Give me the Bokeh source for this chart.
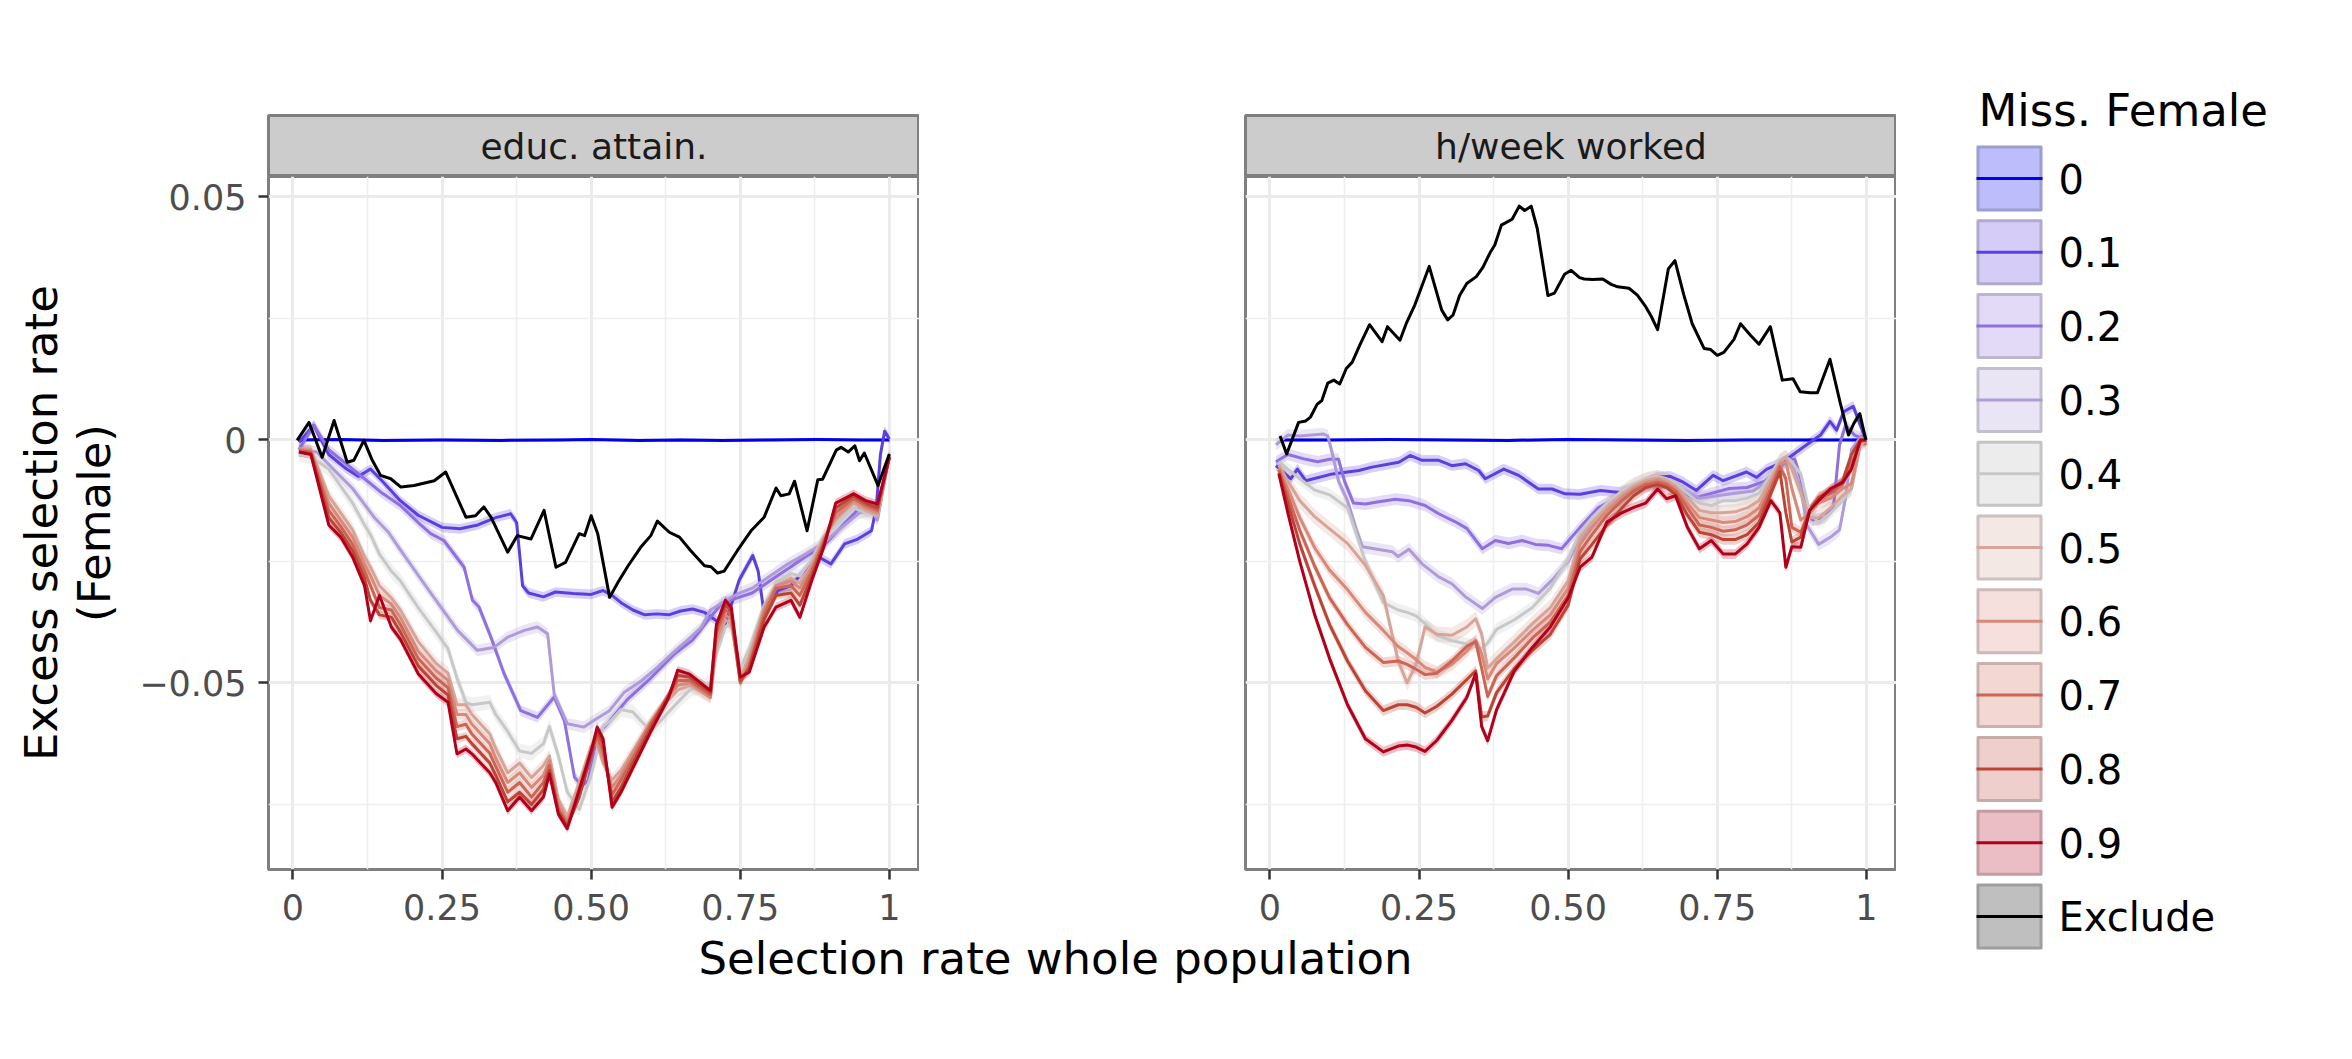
import math
from bokeh.plotting import figure
from bokeh.layouts import row, column
from bokeh.models import Range1d, FixedTicker
from bokeh.core.properties import value
from bokeh.embed import file_html
from bokeh.resources import INLINE

FONT = value("DejaVu Sans")

# ---------------- labels / categories ----------------
facet_titles = ["educ. attain.", "h/week worked"]
levels = ["0", "0.1", "0.2", "0.3", "0.4", "0.5", "0.6", "0.7", "0.8", "0.9", "Exclude"]
line_colors = ["#0000EE", "#5D3FE0", "#8E70E0", "#AE9BD8", "#C8C8C8", "#D6A599",
               "#D9897A", "#CC6553", "#BC4435", "#B3001A", "#000000"]
key_fill_colors = ["#0000EE", "#5D3FE0", "#8E70E0", "#AE9BD8", "#B4B4B4", "#D6A599",
                   "#D9897A", "#CC6553", "#BC4435", "#B3001A", "#7F7F7F"]
x_tick_values = [0, 0.25, 0.5, 0.75, 1]
x_tick_labels = ["0", "0.25", "0.50", "0.75", "1"]
x_minor_values = [0.125, 0.375, 0.625, 0.875]
y_tick_values = [-0.05, 0, 0.05]
y_tick_labels = ["\u22120.05", "0", "0.05"]
y_minor_values = [-0.075, -0.025, 0.025]
x_title = "Selection rate whole population"
y_title = ["Excess selection rate", "(Female)"]
legend_title = "Miss. Female"

# ribbon half widths (read per series)
edu_halfwidth = [0.0003, 0.0010, 0.0011, 0.0012, 0.0015, 0.0013, 0.0011, 0.0010, 0.0009, 0.0009]
hrs_halfwidth = [0.0003, 0.0011, 0.0012, 0.0013, 0.0013, 0.0016, 0.0013, 0.0011, 0.0011, 0.0010]

# ---------------- panel 1: educ. attain. ----------------
edu_m00 = [(0.01, 0.0), (0.08, 0.0001), (0.15, -0.0001), (0.25, 0.0), (0.35, -0.0001), (0.45, 0.0),
           (0.50, 0.0001), (0.58, -0.0001), (0.65, 0.0), (0.72, -0.0001), (0.80, 0.0), (0.88, 0.0001),
           (0.95, 0.0), (1.0, 0.0)]
edu_m01 = [(0.01, -0.0005), (0.035, 0.0030), (0.06, -0.0030), (0.09, -0.0060), (0.11, -0.0075),
           (0.13, -0.0060), (0.15, -0.0085), (0.18, -0.0125), (0.21, -0.0155), (0.25, -0.0180),
           (0.28, -0.0183), (0.31, -0.0175), (0.34, -0.0160), (0.365, -0.0152), (0.375, -0.0170),
           (0.385, -0.0300), (0.395, -0.0315), (0.42, -0.0323), (0.44, -0.0313), (0.47, -0.0316),
           (0.50, -0.0318), (0.52, -0.0310), (0.535, -0.0320), (0.55, -0.0335), (0.57, -0.0350),
           (0.59, -0.0360), (0.61, -0.0358), (0.63, -0.0360), (0.65, -0.0352), (0.67, -0.0348),
           (0.69, -0.0355), (0.71, -0.0372), (0.725, -0.0378), (0.748, -0.0289), (0.771, -0.0238),
           (0.78, -0.0270), (0.79, -0.0358), (0.813, -0.0310), (0.835, -0.0300), (0.857, -0.0270),
           (0.88, -0.0240), (0.902, -0.0255), (0.925, -0.0214), (0.947, -0.0204), (0.97, -0.0187),
           (0.978, -0.0140), (0.985, -0.0030), (0.992, 0.0018), (1.0, 0.0002)]
edu_m02 = [(0.01, -0.0020), (0.035, 0.0030), (0.06, -0.0020), (0.09, -0.0050), (0.12, -0.0080),
           (0.15, -0.0110), (0.18, -0.0135), (0.21, -0.0170), (0.231, -0.0193), (0.253, -0.0207),
           (0.287, -0.0262), (0.301, -0.0330), (0.312, -0.0344), (0.332, -0.0406), (0.354, -0.0481),
           (0.382, -0.0557), (0.41, -0.0571), (0.438, -0.0529), (0.455, -0.0577), (0.472, -0.0694),
           (0.485, -0.0712), (0.495, -0.0700), (0.505, -0.0640), (0.515, -0.0600), (0.53, -0.0580),
           (0.56, -0.0535), (0.60, -0.0490), (0.64, -0.0440), (0.67, -0.0412), (0.70, -0.0365),
           (0.72, -0.0335), (0.745, -0.0325), (0.77, -0.0315), (0.80, -0.0290), (0.83, -0.0265),
           (0.86, -0.0240), (0.89, -0.0218), (0.92, -0.0178), (0.95, -0.0140), (0.97, -0.0135),
           (0.98, -0.0160), (1.0, -0.0030)]
edu_m03 = [(0.01, -0.0020), (0.04, -0.0025), (0.07, -0.0063), (0.10, -0.0100), (0.136, -0.0159),
           (0.16, -0.0190), (0.181, -0.0228), (0.22, -0.0296), (0.248, -0.0344), (0.276, -0.0392),
           (0.309, -0.0433), (0.337, -0.0427), (0.36, -0.0406), (0.388, -0.0392), (0.41, -0.0385),
           (0.427, -0.0399), (0.438, -0.0523), (0.46, -0.0584), (0.488, -0.0591), (0.505, -0.0577),
           (0.53, -0.0558), (0.555, -0.0520), (0.585, -0.0495), (0.611, -0.0468), (0.64, -0.0435),
           (0.667, -0.0406), (0.685, -0.0385), (0.70, -0.0350), (0.72, -0.0335), (0.745, -0.0317),
           (0.77, -0.0305), (0.80, -0.0280), (0.83, -0.0255), (0.86, -0.0235), (0.89, -0.0212),
           (0.92, -0.0180), (0.95, -0.0150), (0.97, -0.0145), (0.98, -0.0165), (1.0, -0.0030)]
edu_grid = [0.01, 0.03, 0.06, 0.08, 0.10, 0.12, 0.13, 0.145, 0.165, 0.18, 0.21, 0.24, 0.26, 0.275,
            0.29, 0.30, 0.33, 0.34, 0.36, 0.38, 0.40, 0.42, 0.43, 0.445, 0.46, 0.48, 0.50, 0.51,
            0.52, 0.535, 0.55, 0.57, 0.60, 0.63, 0.645, 0.665, 0.70, 0.71, 0.725, 0.735, 0.75,
            0.765, 0.79, 0.81, 0.835, 0.85, 0.87, 0.89, 0.91, 0.94, 0.96, 0.98, 1.0]
edu_m04 = [-0.0030, -0.0035, -0.0060, -0.0095, -0.0130, -0.0175, -0.0195, -0.0235, -0.0270, -0.0290,
           -0.0345, -0.0395, -0.0430, -0.0490, -0.0540, -0.0545, -0.0540, -0.0565, -0.0600, -0.0640,
           -0.0645, -0.0625, -0.0590, -0.0650, -0.0725, -0.0760, -0.0690, -0.0640, -0.0590, -0.0575,
           -0.0555, -0.0560, -0.0600, -0.0560, -0.0540, -0.0515, -0.0500, -0.0440, -0.0385, -0.0380,
           -0.0470, -0.0430, -0.0340, -0.0295, -0.0275, -0.0280, -0.0245, -0.0200, -0.0175, -0.0140,
           -0.0150, -0.0155, -0.0030]
edu_m05 = [-0.0018, -0.0020, -0.0115, -0.0150, -0.0185, -0.0240, -0.0262, -0.0300, -0.0325, -0.0350,
           -0.0415, -0.0460, -0.0480, -0.0545, -0.0545, -0.0565, -0.0605, -0.0635, -0.0685, -0.0665,
           -0.0695, -0.0670, -0.0650, -0.0740, -0.0775, -0.0705, -0.0630, -0.0625, -0.0665, -0.0700,
           -0.0680, -0.0640, -0.0580, -0.0535, -0.0515, -0.0505, -0.0530, -0.0425, -0.0370, -0.0380,
           -0.0490, -0.0445, -0.0345, -0.0300, -0.0285, -0.0295, -0.0255, -0.0200, -0.0165, -0.0130,
           -0.0145, -0.0155, -0.0032]
edu_m06 = [-0.0020, -0.0022, -0.0130, -0.0165, -0.0200, -0.0255, -0.0280, -0.0320, -0.0338, -0.0365,
           -0.0435, -0.0475, -0.0495, -0.0565, -0.0565, -0.0585, -0.0625, -0.0655, -0.0705, -0.0685,
           -0.0715, -0.0690, -0.0660, -0.0750, -0.0785, -0.0715, -0.0635, -0.0620, -0.0655, -0.0715,
           -0.0690, -0.0645, -0.0580, -0.0528, -0.0505, -0.0500, -0.0530, -0.0410, -0.0360, -0.0370,
           -0.0498, -0.0455, -0.0350, -0.0300, -0.0290, -0.0305, -0.0262, -0.0205, -0.0160, -0.0125,
           -0.0140, -0.0150, -0.0033]
edu_m07 = [-0.0022, -0.0025, -0.0145, -0.0178, -0.0215, -0.0270, -0.0300, -0.0345, -0.0350, -0.0380,
           -0.0450, -0.0490, -0.0510, -0.0590, -0.0585, -0.0605, -0.0645, -0.0672, -0.0725, -0.0705,
           -0.0735, -0.0705, -0.0670, -0.0760, -0.0790, -0.0725, -0.0640, -0.0610, -0.0640, -0.0730,
           -0.0700, -0.0655, -0.0585, -0.0525, -0.0495, -0.0495, -0.0525, -0.0395, -0.0350, -0.0360,
           -0.0500, -0.0465, -0.0360, -0.0305, -0.0300, -0.0320, -0.0270, -0.0210, -0.0150, -0.0120,
           -0.0135, -0.0145, -0.0035]
edu_m08 = [-0.0025, -0.0028, -0.0160, -0.0190, -0.0228, -0.0285, -0.0330, -0.0360, -0.0365, -0.0395,
           -0.0465, -0.0505, -0.0525, -0.0615, -0.0610, -0.0625, -0.0665, -0.0690, -0.0745, -0.0725,
           -0.0750, -0.0720, -0.0680, -0.0765, -0.0795, -0.0735, -0.0650, -0.0600, -0.0625, -0.0745,
           -0.0715, -0.0665, -0.0592, -0.0525, -0.0485, -0.0488, -0.0520, -0.0385, -0.0340, -0.0352,
           -0.0495, -0.0470, -0.0370, -0.0320, -0.0315, -0.0340, -0.0280, -0.0215, -0.0140, -0.0115,
           -0.0130, -0.0140, -0.0035]
edu_m09 = [-0.0025, -0.0030, -0.0175, -0.0200, -0.0241, -0.0300, -0.0372, -0.0320, -0.0385, -0.0410,
           -0.0481, -0.0522, -0.0540, -0.0646, -0.0636, -0.0646, -0.0685, -0.0705, -0.0763, -0.0735,
           -0.0763, -0.0735, -0.0687, -0.0770, -0.0800, -0.0720, -0.0640, -0.0591, -0.0615, -0.0756,
           -0.0725, -0.0675, -0.0600, -0.0530, -0.0474, -0.0482, -0.0516, -0.0380, -0.0330, -0.0345,
           -0.0488, -0.0478, -0.0385, -0.0344, -0.0330, -0.0365, -0.0289, -0.0221, -0.0130, -0.0111,
           -0.0125, -0.0132, -0.0036]
edu_excl = [(0.007, -0.0001), (0.027, 0.0036), (0.049, -0.0036), (0.069, 0.0040), (0.091, -0.0046),
            (0.102, -0.0042), (0.119, -0.0001), (0.133, -0.0042), (0.147, -0.0073), (0.164, -0.0080),
            (0.181, -0.0097), (0.203, -0.0094), (0.237, -0.0084), (0.256, -0.0066), (0.290, -0.0159),
            (0.306, -0.0156), (0.320, -0.0138), (0.332, -0.0159), (0.360, -0.0231), (0.376, -0.0197),
            (0.399, -0.0204), (0.421, -0.0145), (0.441, -0.0262), (0.457, -0.0252), (0.480, -0.0193),
            (0.489, -0.0197), (0.500, -0.0156), (0.511, -0.0193), (0.531, -0.0324), (0.545, -0.0293),
            (0.562, -0.0259), (0.583, -0.0221), (0.600, -0.0197), (0.611, -0.0167), (0.631, -0.0190),
            (0.648, -0.0200), (0.667, -0.0228), (0.690, -0.0259), (0.701, -0.0261), (0.712, -0.0274),
            (0.723, -0.0270), (0.745, -0.0228), (0.768, -0.0187), (0.790, -0.0159), (0.810, -0.0099),
            (0.818, -0.0115), (0.832, -0.0111), (0.841, -0.0085), (0.862, -0.0187), (0.880, -0.0082),
            (0.888, -0.0081), (0.911, -0.0021), (0.919, -0.0015), (0.931, -0.0025), (0.942, -0.0012),
            (0.950, -0.0043), (0.958, -0.0027), (0.981, -0.0094), (0.992, -0.0056), (1.0, -0.0029)]

# ---------------- panel 2: h/week worked ----------------
hrs_m00 = [(0.02, 0.0), (0.1, 0.0), (0.2, 0.0001), (0.3, 0.0), (0.4, -0.0001), (0.5, 0.0001),
           (0.6, 0.0), (0.7, -0.0001), (0.8, 0.0), (0.9, 0.0), (0.96, 0.0), (1.0, 0.0)]
hrs_m01 = [(0.01, -0.0053), (0.035, -0.0080), (0.046, -0.0060), (0.06, -0.0084), (0.105, -0.0070),
           (0.149, -0.0063), (0.171, -0.0056), (0.216, -0.0046), (0.235, -0.0032), (0.255, -0.0042),
           (0.283, -0.0042), (0.305, -0.0053), (0.328, -0.0049), (0.35, -0.0063), (0.361, -0.0080),
           (0.392, -0.0060), (0.417, -0.0073), (0.45, -0.0101), (0.473, -0.0101), (0.495, -0.0111),
           (0.52, -0.0112), (0.554, -0.0104), (0.587, -0.0108), (0.615, -0.0097), (0.648, -0.0077),
           (0.671, -0.0075), (0.693, -0.0087), (0.715, -0.0104), (0.743, -0.0073), (0.76, -0.0084),
           (0.799, -0.0066), (0.816, -0.0077), (0.833, -0.0060), (0.86, -0.0046), (0.883, -0.0025),
           (0.90, -0.0010), (0.923, 0.0010), (0.939, 0.0038), (0.95, 0.0020), (0.962, 0.0058),
           (0.978, 0.0069), (0.995, 0.0014), (1.0, 0.0)]
hrs_m02 = [(0.01, -0.0045), (0.03, -0.0030), (0.06, -0.0040), (0.08, -0.0045), (0.10, -0.0040),
           (0.115, -0.0040), (0.125, -0.0085), (0.14, -0.0130), (0.16, -0.0132), (0.18, -0.0128),
           (0.21, -0.0122), (0.233, -0.0125), (0.26, -0.0135), (0.283, -0.0152), (0.31, -0.0168),
           (0.33, -0.0182), (0.356, -0.0224), (0.378, -0.0207), (0.40, -0.0213), (0.423, -0.0207),
           (0.445, -0.0215), (0.467, -0.0217), (0.489, -0.0224), (0.52, -0.0180), (0.55, -0.0140),
           (0.58, -0.0120), (0.61, -0.0100), (0.64, -0.0090), (0.67, -0.0090), (0.69, -0.0105),
           (0.71, -0.0120), (0.74, -0.0110), (0.77, -0.0100), (0.80, -0.0098), (0.83, -0.0085),
           (0.85, -0.0060), (0.87, -0.0040), (0.88, -0.0040), (0.89, -0.0080), (0.90, -0.0150),
           (0.91, -0.0165), (0.93, -0.0160), (0.945, -0.0136), (0.955, -0.0010), (0.965, 0.0030),
           (0.98, 0.0010), (1.0, 0.0)]
hrs_m03 = [(0.01, -0.0010), (0.03, 0.0010), (0.05, 0.0008), (0.07, 0.0010), (0.09, 0.0012),
           (0.097, 0.0008), (0.105, -0.0030), (0.115, -0.0085), (0.13, -0.0125), (0.145, -0.0185),
           (0.155, -0.0220), (0.18, -0.0225), (0.205, -0.0230), (0.215, -0.0240), (0.233, -0.0225),
           (0.255, -0.0255), (0.283, -0.0282), (0.305, -0.0296), (0.328, -0.0323), (0.356, -0.0347),
           (0.378, -0.0324), (0.406, -0.0307), (0.43, -0.0307), (0.45, -0.0316), (0.475, -0.0286),
           (0.50, -0.0250), (0.52, -0.0205), (0.55, -0.0160), (0.58, -0.0130), (0.61, -0.0105),
           (0.64, -0.0090), (0.665, -0.0085), (0.69, -0.0100), (0.72, -0.0120), (0.75, -0.0115),
           (0.78, -0.0110), (0.81, -0.0105), (0.84, -0.0080), (0.86, -0.0045), (0.875, -0.0050),
           (0.89, -0.0100), (0.90, -0.0175), (0.92, -0.0215), (0.94, -0.0200), (0.955, -0.0185),
           (0.965, -0.0120), (0.975, -0.0020), (0.99, 0.0005), (1.0, 0.0)]
hrs_grid = [0.015, 0.03, 0.05, 0.075, 0.10, 0.13, 0.16, 0.19, 0.215, 0.23, 0.245, 0.26, 0.28, 0.305,
            0.33, 0.345, 0.355, 0.365, 0.38, 0.41, 0.44, 0.47, 0.50,
            0.52, 0.54, 0.565, 0.59, 0.61, 0.63, 0.65, 0.665, 0.68, 0.70, 0.72, 0.74, 0.76, 0.78,
            0.80, 0.82, 0.84, 0.855, 0.865, 0.875, 0.89, 0.905, 0.92, 0.94, 0.96, 0.975, 0.99, 1.0]
hrs_m04 = [-0.0045, -0.0060, -0.0080, -0.0103, -0.0113, -0.0140, -0.0250, -0.0335, -0.0350, -0.0355,
           -0.0362, -0.0378, -0.0402, -0.0413, -0.0420, -0.0425, -0.0430, -0.0418, -0.0390, -0.0370,
           -0.0345, -0.0305, -0.0245,
           -0.0190, -0.0160, -0.0130, -0.0105, -0.0090, -0.0080, -0.0075, -0.0080, -0.0090, -0.0110,
           -0.0130, -0.0135, -0.0125, -0.0125, -0.0120, -0.0110, -0.0070, -0.0040, -0.0035, -0.0045,
           -0.0070, -0.0150, -0.0170, -0.0150, -0.0125, -0.0100, -0.0010, 0.0]
hrs_m05 = [-0.0052, -0.0085, -0.0125, -0.0158, -0.0183, -0.0213, -0.0258, -0.0320, -0.0455, -0.0500,
           -0.0462, -0.0385, -0.0400, -0.0402, -0.0385, -0.0368, -0.0400, -0.0470, -0.0450, -0.0415,
           -0.0378, -0.0345, -0.0290,
           -0.0200, -0.0170, -0.0138, -0.0112, -0.0095, -0.0083, -0.0078, -0.0083, -0.0095, -0.0120,
           -0.0145, -0.0150, -0.0150, -0.0148, -0.0140, -0.0125, -0.0080, -0.0045, -0.0035, -0.0060,
           -0.0110, -0.0160, -0.0160, -0.0140, -0.0115, -0.0100, -0.0008, 0.0]
hrs_m06 = [-0.0058, -0.0100, -0.0160, -0.0222, -0.0268, -0.0308, -0.0355, -0.0392, -0.0425, -0.0438,
           -0.0452, -0.0468, -0.0478, -0.0462, -0.0435, -0.0412, -0.0440, -0.0492, -0.0460, -0.0428,
           -0.0392, -0.0360, -0.0305,
           -0.0215, -0.0180, -0.0145, -0.0118, -0.0100, -0.0088, -0.0082, -0.0088, -0.0100, -0.0130,
           -0.0160, -0.0165, -0.0170, -0.0168, -0.0158, -0.0140, -0.0090, -0.0050, -0.0045, -0.0100,
           -0.0165, -0.0150, -0.0130, -0.0120, -0.0100, -0.0090, -0.0005, 0.0]
hrs_m07 = [-0.0062, -0.0115, -0.0186, -0.0260, -0.0325, -0.0380, -0.0427, -0.0458, -0.0455, -0.0462,
           -0.0472, -0.0483, -0.0480, -0.0455, -0.0425, -0.0415, -0.0470, -0.0528, -0.0485, -0.0448,
           -0.0408, -0.0375, -0.0320,
           -0.0230, -0.0195, -0.0155, -0.0125, -0.0105, -0.0092, -0.0087, -0.0092, -0.0105, -0.0140,
           -0.0175, -0.0180, -0.0188, -0.0185, -0.0175, -0.0155, -0.0100, -0.0055, -0.0080, -0.0180,
           -0.0190, -0.0145, -0.0120, -0.0110, -0.0090, -0.0050, -0.0003, 0.0]
hrs_m08 = [-0.0068, -0.0130, -0.0214, -0.0300, -0.0380, -0.0455, -0.0516, -0.0557, -0.0545, -0.0545,
           -0.0550, -0.0562, -0.0548, -0.0523, -0.0493, -0.0475, -0.0570, -0.0568, -0.0520, -0.0470,
           -0.0433, -0.0400, -0.0340,
           -0.0245, -0.0215, -0.0175, -0.0140, -0.0115, -0.0098, -0.0092, -0.0098, -0.0112, -0.0155,
           -0.0190, -0.0195, -0.0205, -0.0205, -0.0195, -0.0170, -0.0110, -0.0065, -0.0150, -0.0210,
           -0.0200, -0.0145, -0.0118, -0.0105, -0.0085, -0.0030, 0.0, 0.0]
hrs_m09 = [-0.0070, -0.0150, -0.0250, -0.0360, -0.0450, -0.0545, -0.0615, -0.0642, -0.0630, -0.0628,
           -0.0632, -0.0641, -0.0618, -0.0577, -0.0530, -0.0481, -0.0590, -0.0619, -0.0555, -0.0475,
           -0.0427, -0.0385, -0.0325,
           -0.0262, -0.0241, -0.0169, -0.0150, -0.0139, -0.0130, -0.0101, -0.0121, -0.0115, -0.0180,
           -0.0224, -0.0207, -0.0235, -0.0235, -0.0214, -0.0180, -0.0125, -0.0150, -0.0262, -0.0220,
           -0.0221, -0.0145, -0.0125, -0.0100, -0.0088, -0.0060, 0.0, 0.0]
hrs_excl = [(0.017, 0.0008), (0.028, -0.0029), (0.048, 0.0036), (0.060, 0.0039), (0.068, 0.0047),
            (0.079, 0.0073), (0.087, 0.0081), (0.097, 0.0117), (0.107, 0.0123), (0.117, 0.0115),
            (0.128, 0.0147), (0.138, 0.0160), (0.151, 0.0196), (0.167, 0.0237), (0.188, 0.0202),
            (0.197, 0.0233), (0.218, 0.0205), (0.229, 0.0241), (0.243, 0.0278), (0.267, 0.0357),
            (0.288, 0.0267), (0.298, 0.0247), (0.307, 0.0257), (0.318, 0.0297), (0.330, 0.0322),
            (0.346, 0.0336), (0.357, 0.0355), (0.369, 0.0385), (0.377, 0.0401), (0.388, 0.0442),
            (0.406, 0.0454), (0.418, 0.0481), (0.427, 0.0472), (0.438, 0.0481), (0.448, 0.0436),
            (0.466, 0.0297), (0.477, 0.0302), (0.494, 0.0341), (0.505, 0.0349), (0.519, 0.0334),
            (0.527, 0.0331), (0.541, 0.0330), (0.558, 0.0331), (0.572, 0.0320), (0.583, 0.0315),
            (0.602, 0.0312), (0.616, 0.0298), (0.630, 0.0274), (0.639, 0.0255), (0.650, 0.0227),
            (0.668, 0.0352), (0.679, 0.0369), (0.694, 0.0298), (0.708, 0.0239), (0.728, 0.0188),
            (0.739, 0.0186), (0.750, 0.0174), (0.761, 0.0180), (0.778, 0.0207), (0.789, 0.0239),
            (0.806, 0.0215), (0.820, 0.0197), (0.839, 0.0233), (0.859, 0.0123), (0.877, 0.0126),
            (0.889, 0.0099), (0.906, 0.0097), (0.918, 0.0097), (0.939, 0.0166), (0.956, 0.0077),
            (0.970, 0.0010), (0.979, 0.0034), (0.989, 0.0054), (0.999, 0.0)]


def split(pairs):
    return [p[0] for p in pairs], [p[1] for p in pairs]


edu_series = [split(edu_m00), split(edu_m01), split(edu_m02), split(edu_m03),
              (edu_grid, edu_m04), (edu_grid, edu_m05), (edu_grid, edu_m06),
              (edu_grid, edu_m07), (edu_grid, edu_m08), (edu_grid, edu_m09), split(edu_excl)]
hrs_series = [split(hrs_m00), split(hrs_m01), split(hrs_m02), split(hrs_m03),
              (hrs_grid, hrs_m04), (hrs_grid, hrs_m05), (hrs_grid, hrs_m06),
              (hrs_grid, hrs_m07), (hrs_grid, hrs_m08), (hrs_grid, hrs_m09), split(hrs_excl)]

# ---------------- layout constants (pixels) ----------------
FRAME_W, FRAME_H = 651, 693
STRIP_H, TOP_PAD = 61, 115
BOTTOM_PAD = 62
P1_LEFT = 268
P2_LEFT = 326
LEG_W = 440
ROW_H = TOP_PAD + STRIP_H + FRAME_H + BOTTOM_PAD
XT_H = 100
X_RANGE = (-0.041, 1.0505)
Y_RANGE = (-0.0884, 0.0542)


def make_strip(label, left):
    s = figure(frame_width=FRAME_W, frame_height=STRIP_H, x_range=Range1d(0, 1), y_range=Range1d(0, 1),
               x_axis_type=None, y_axis_type=None, output_backend="svg", toolbar_location=None,
               title=None, min_border_left=left, min_border_right=0, min_border_top=TOP_PAD,
               min_border_bottom=0)
    s.background_fill_color = "#CCCCCC"
    s.border_fill_color = "white"
    s.outline_line_color = "#7F7F7F"
    s.outline_line_width = 3
    s.text(x=[0.5], y=[0.5], text=[label], text_align="center", text_baseline="middle",
           text_font=FONT, text_font_size="36px", text_color="#1A1A1A")
    return s


def make_panel(series, halfwidths, left, show_y):
    p = figure(frame_width=FRAME_W, frame_height=FRAME_H, x_range=Range1d(*X_RANGE),
               y_range=Range1d(*Y_RANGE), output_backend="svg", toolbar_location=None, title=None,
               min_border_left=left, min_border_right=0, min_border_top=0,
               min_border_bottom=BOTTOM_PAD)
    p.background_fill_color = "white"
    p.border_fill_color = "white"
    p.outline_line_color = "#7F7F7F"
    p.outline_line_width = 3
    xt = FixedTicker(ticks=x_tick_values, minor_ticks=x_minor_values)
    yt = FixedTicker(ticks=y_tick_values, minor_ticks=y_minor_values)
    p.xaxis.ticker = xt
    p.yaxis.ticker = yt
    p.xgrid.ticker = xt
    p.ygrid.ticker = yt
    for g in (p.xgrid, p.ygrid):
        g.grid_line_color = "#EBEBEB"
        g.grid_line_width = 3
        g.minor_grid_line_color = "#EFEFEF"
        g.minor_grid_line_width = 1.6
    for ax in (p.xaxis, p.yaxis):
        ax.axis_line_color = None
        ax.major_tick_line_color = "#333333"
        ax.major_tick_line_width = 2.5
        ax.major_tick_out = 10
        ax.major_tick_in = 0
        ax.minor_tick_line_color = None
        ax.major_label_text_font = "DejaVu Sans"
        ax.major_label_text_font_size = "35px"
        ax.major_label_text_color = "#4D4D4D"
    p.xaxis.major_label_overrides = {v: lab for v, lab in zip(x_tick_values, x_tick_labels)}
    p.xaxis.major_label_standoff = 14
    p.yaxis.major_label_overrides = {v: lab for v, lab in zip(y_tick_values, y_tick_labels)}
    p.yaxis.major_label_standoff = 12
    if show_y:
        yax = p.yaxis[0]
        yax.axis_label = "\n".join(y_title)
        yax.axis_label_text_font = "DejaVu Sans"
        yax.axis_label_text_font_size = "45px"
        yax.axis_label_text_font_style = "normal"
        yax.axis_label_text_color = "black"
        yax.axis_label_standoff = 15
        if "axis_label_text_line_height" in yax.properties():
            yax.axis_label_text_line_height = 1.0
    else:
        p.yaxis.visible = False

    for (xs, ys), col, hw in zip(series[:-1], line_colors[:-1], halfwidths):
        p.varea(x=xs, y1=[v - hw for v in ys], y2=[v + hw for v in ys],
                fill_color=col, fill_alpha=0.25)
    for (xs, ys), col in zip(series, line_colors):
        p.line(xs, ys, line_color=col, line_width=3, line_join="round")
    return p


strip1 = make_strip(facet_titles[0], P1_LEFT)
strip2 = make_strip(facet_titles[1], P2_LEFT)
panel1 = make_panel(edu_series, edu_halfwidth, P1_LEFT, True)
panel2 = make_panel(hrs_series, hrs_halfwidth, P2_LEFT, False)

# x title (spans the two panels)
LEFT_W = P1_LEFT + FRAME_W + P2_LEFT + FRAME_W
xtf = figure(width=LEFT_W, height=XT_H, x_range=Range1d(0, LEFT_W), y_range=Range1d(XT_H, 0),
             x_axis_type=None, y_axis_type=None, output_backend="svg", toolbar_location=None,
             title=None, min_border=0)
xtf.outline_line_color = None
xtf.text(x=[1055], y=[27], text=[x_title], text_align="center", text_baseline="middle",
         text_font=FONT, text_font_size="45px", text_color="black")

# legend (own figure, full height; y measured downward in pixels)
LEG_H = ROW_H + XT_H
leg = figure(width=LEG_W, height=LEG_H, x_range=Range1d(0, LEG_W), y_range=Range1d(LEG_H, 0),
             x_axis_type=None, y_axis_type=None, output_backend="svg", toolbar_location=None,
             title=None, min_border=0)
leg.outline_line_color = None
KEY_L, KEY_W, KEY_H, KEY_T0, KEY_STEP = 80, 66, 66, 145, 73.8
tops = [KEY_T0 + i * KEY_STEP for i in range(len(levels))]
leg.text(x=[82], y=[110], text=[legend_title], text_align="left", text_baseline="middle",
         text_font=FONT, text_font_size="45px", text_color="black")
for i, (lab, col, fcol) in enumerate(zip(levels, line_colors, key_fill_colors)):
    t = tops[i]
    leg.quad(left=[KEY_L], right=[KEY_L + KEY_W], top=[t], bottom=[t + KEY_H],
             fill_color=fcol, fill_alpha=(0.5 if lab == "Exclude" else 0.26), line_color=None)
    leg.quad(left=[KEY_L + 1.5], right=[KEY_L + KEY_W - 1.5], top=[t + 1.5], bottom=[t + KEY_H - 1.5],
             fill_color=None, line_color="black", line_alpha=0.17, line_width=3)
    leg.line([KEY_L, KEY_L + KEY_W], [t + KEY_H / 2, t + KEY_H / 2], line_color=col, line_width=3)
    leg.text(x=[162], y=[t + KEY_H / 2], text=[lab], text_align="left", text_baseline="middle",
             text_font=FONT, text_font_size="40px", text_color="black")

layout = row(column(row(column(strip1, panel1), column(strip2, panel2)), xtf), leg)

open("out.html", "w").write(file_html(layout, INLINE, title="plot"))
